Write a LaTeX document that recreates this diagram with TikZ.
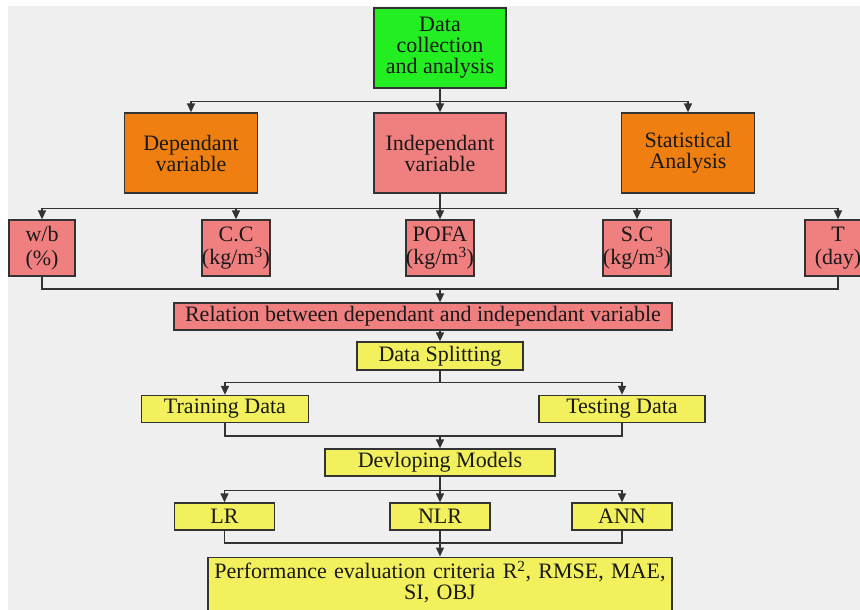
\documentclass[tikz,border=0pt]{standalone}
\usepackage{fontspec}
\setmainfont{Liberation Serif}
\usetikzlibrary{arrows.meta}

\definecolor{boxgreen}{HTML}{22EE22}
\definecolor{boxorange}{HTML}{EE7F10}
\definecolor{boxpink}{HTML}{F08080}
\definecolor{boxyellow}{HTML}{F2F05C}
\definecolor{bggray}{HTML}{EFEFEF}

\begin{document}
\begin{tikzpicture}[x=1pt,y=-1pt,
	box/.style={draw=black!80, line width=1.3pt, inner sep=0pt, align=center, text=black!90, font=\fontsize{22}{21}\selectfont},
	unit/.style={box, fill=boxpink, minimum width=66, minimum height=56, font=\fontsize{22}{23.5}\selectfont},
	link/.style={draw=black!80, line width=1.4pt},
	arr/.style={link, -{Triangle[width=8pt,length=9pt]}}]
		
		\useasboundingbox (0,0) rectangle (860,610);
		\clip (0,0) rectangle (860,610);
		\fill[white] (0,0) rectangle (860,610);
		\fill[bggray] (8,6) rectangle (860,610);
		
		% top levels
		\node[box, fill=boxgreen, minimum width=132, minimum height=80] (data) at (440,48) {Data\\collection\\and analysis};
		\node[box, fill=boxorange, minimum width=133, minimum height=80] (dep) at (191,153) {Dependant\\variable};
		\node[box, fill=boxpink, minimum width=132, minimum height=80] (indep) at (440,153) {Independant\\variable};
		\node[box, fill=boxorange, minimum width=133, minimum height=80] (stat) at (688,153) {Statistical\\Analysis};
		
		% variables
		\node[unit] (wb) at (42,248) {w/b\\(\%)};
		\node[unit] (cc) at (236,248) {C.C\\(kg/m\textsuperscript{3})};
		\node[unit] (pofa) at (440,248) {POFA\\(kg/m\textsuperscript{3})};
		\node[unit] (sc) at (637,248) {S.C\\(kg/m\textsuperscript{3})};
		\node[unit] (T) at (838,248) {T\\(day)};
		
		% lower chain
		\node[box, fill=boxpink, minimum width=498, minimum height=27] (rel) at (423,316.5) {Relation between dependant and independant variable};
		\node[box, fill=boxyellow, minimum width=166, minimum height=28] (split) at (440,356) {Data Splitting};
		\node[box, fill=boxyellow, minimum width=167, minimum height=27] (train) at (225,409) {Training Data};
		\node[box, fill=boxyellow, minimum width=166, minimum height=27] (test) at (622,409) {Testing Data};
		\node[box, fill=boxyellow, minimum width=230, minimum height=27] (dev) at (440,462.5) {Devloping Models};
		\node[box, fill=boxyellow, minimum width=100, minimum height=27] (lr) at (224.5,516.5) {LR};
		\node[box, fill=boxyellow, minimum width=100, minimum height=27] (nlr) at (440,516.5) {NLR};
		\node[box, fill=boxyellow, minimum width=100, minimum height=27] (ann) at (622,516.5) {ANN};
		\node[box, fill=boxyellow, text width=464, inner ysep=4pt, anchor=north] (perf) at (440,556.5) {Performance evaluation criteria R\textsuperscript{2}, RMSE, MAE,\\SI, OBJ\\\strut};
		
		\coordinate (relin) at (440,289);
		\coordinate (devin) at (440,436);
		\coordinate (perfin) at (440,543);
		
		\draw[arr] (data.south) -- ++(0,13) -| (dep.north);
		\draw[arr] (data.south) -- (indep.north);
		\draw[arr] (data.south) -- ++(0,13) -| (stat.north);
		
		\draw[arr] (indep.south) -- ++(0,15) -| (wb.north);
		\draw[arr] (indep.south) -- ++(0,15) -| (cc.north);
		\draw[arr] (indep.south) -- (pofa.north);
		\draw[arr] (indep.south) -- ++(0,15) -| (sc.north);
		\draw[arr] (indep.south) -- ++(0,15) -| (T.north);
		
		\draw[link] (wb.south) |- (relin);
		\draw[link] (T.south) |- (relin);
		\draw[arr] (relin) -- (relin |- rel.north);
		\draw[arr] (split.north |- rel.south) -- (split.north);
		
		\draw[arr] (split.south) -- ++(0,12) -| (train.north);
		\draw[arr] (split.south) -- ++(0,12) -| (test.north);
		\draw[link] (train.south) |- (devin);
		\draw[link] (test.south) |- (devin);
		\draw[arr] (devin) -- (dev.north);
		
		\draw[arr] (dev.south) -- ++(0,14) -| (lr.north);
		\draw[arr] (dev.south) -- (nlr.north);
		\draw[arr] (dev.south) -- ++(0,14) -| (ann.north);
		\draw[link] (lr.south) |- (perfin);
		\draw[link] (ann.south) |- (perfin);
		\draw[arr] (nlr.south) -- (perf.north);
		
	\end{tikzpicture}
\end{document}
